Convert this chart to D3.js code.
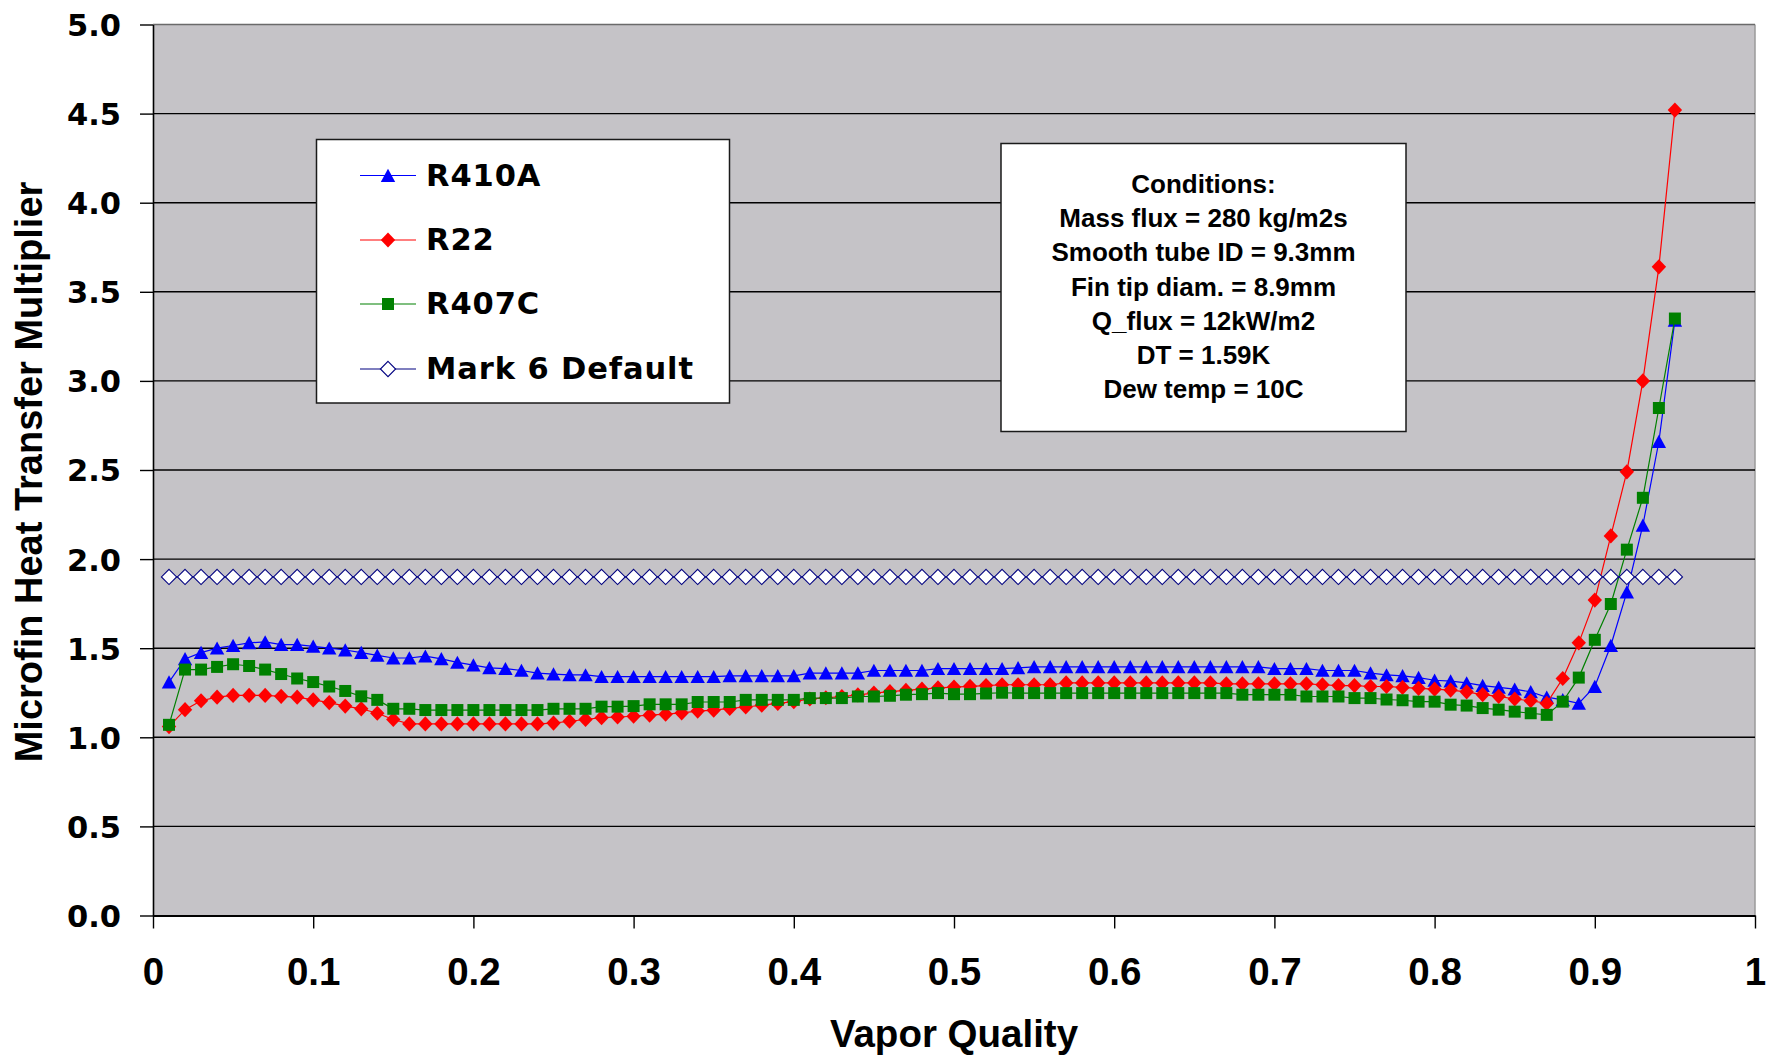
<!DOCTYPE html>
<html>
<head>
<meta charset="utf-8">
<script src="https://cdn.jsdelivr.net/npm/d3@7"></script>
<style>
  html, body { margin: 0; padding: 0; background: #ffffff; }
  svg { display: block; }
</style>
</head>
<body>
<svg id="chart" width="1773" height="1057"></svg>
<script>
// Vapor quality at which each multiplier was evaluated
const quality = [
  0.01,0.02,0.03,0.04,0.05,0.06,0.07,0.08,0.09,0.10,
  0.11,0.12,0.13,0.14,0.15,0.16,0.17,0.18,0.19,0.20,
  0.21,0.22,0.23,0.24,0.25,0.26,0.27,0.28,0.29,0.30,
  0.31,0.32,0.33,0.34,0.35,0.36,0.37,0.38,0.39,0.40,
  0.41,0.42,0.43,0.44,0.45,0.46,0.47,0.48,0.49,0.50,
  0.51,0.52,0.53,0.54,0.55,0.56,0.57,0.58,0.59,0.60,
  0.61,0.62,0.63,0.64,0.65,0.66,0.67,0.68,0.69,0.70,
  0.71,0.72,0.73,0.74,0.75,0.76,0.77,0.78,0.79,0.80,
  0.81,0.82,0.83,0.84,0.85,0.86,0.87,0.88,0.89,0.90,
  0.91,0.92,0.93,0.94,0.95
];

const r410a = [
  1.31,1.44,1.475,1.50,1.515,1.53,1.535,1.52,1.52,1.51,
  1.50,1.49,1.475,1.46,1.445,1.445,1.455,1.44,1.42,1.405,
  1.39,1.385,1.375,1.36,1.355,1.35,1.35,1.34,1.34,1.34,
  1.34,1.34,1.34,1.34,1.34,1.345,1.345,1.345,1.345,1.345,
  1.36,1.36,1.36,1.36,1.375,1.375,1.375,1.375,1.385,1.385,
  1.385,1.385,1.385,1.39,1.395,1.395,1.395,1.395,1.395,1.395,
  1.395,1.395,1.395,1.395,1.395,1.395,1.395,1.395,1.395,1.385,
  1.385,1.385,1.375,1.375,1.375,1.36,1.35,1.345,1.335,1.32,
  1.315,1.305,1.29,1.28,1.27,1.255,1.225,1.21,1.19,1.285,
  1.515,1.815,2.19,2.66,3.34
];

const r22 = [
  1.06,1.155,1.205,1.225,1.235,1.235,1.235,1.23,1.225,1.21,
  1.195,1.175,1.16,1.135,1.10,1.075,1.075,1.075,1.075,1.075,
  1.075,1.075,1.075,1.075,1.08,1.09,1.10,1.11,1.114,1.118,
  1.124,1.13,1.137,1.147,1.152,1.162,1.17,1.18,1.19,1.20,
  1.215,1.222,1.229,1.238,1.248,1.256,1.263,1.27,1.277,1.282,
  1.286,1.29,1.295,1.295,1.295,1.295,1.305,1.305,1.305,1.305,
  1.305,1.305,1.305,1.305,1.305,1.305,1.30,1.30,1.30,1.30,
  1.30,1.30,1.295,1.29,1.29,1.285,1.285,1.28,1.275,1.27,
  1.265,1.255,1.24,1.23,1.215,1.205,1.19,1.33,1.53,1.77,
  2.13,2.49,3.00,3.64,4.52
];

const r407c = [
  1.07,1.38,1.38,1.395,1.41,1.40,1.38,1.355,1.33,1.31,
  1.285,1.26,1.23,1.21,1.16,1.16,1.153,1.153,1.153,1.153,
  1.153,1.153,1.153,1.153,1.16,1.16,1.16,1.172,1.172,1.175,
  1.185,1.185,1.185,1.198,1.198,1.198,1.21,1.21,1.21,1.21,
  1.22,1.22,1.22,1.229,1.229,1.233,1.239,1.242,1.248,1.242,
  1.242,1.246,1.25,1.248,1.248,1.248,1.248,1.248,1.248,1.248,
  1.248,1.248,1.248,1.248,1.248,1.248,1.248,1.239,1.239,1.239,
  1.239,1.229,1.229,1.229,1.22,1.22,1.212,1.208,1.20,1.20,
  1.183,1.178,1.164,1.155,1.144,1.135,1.126,1.20,1.335,1.547,
  1.748,2.053,2.344,2.848,3.35
];

const mark6Default = [
  1.9,1.9,1.9,1.9,1.9,1.9,1.9,1.9,1.9,1.9,
  1.9,1.9,1.9,1.9,1.9,1.9,1.9,1.9,1.9,1.9,
  1.9,1.9,1.9,1.9,1.9,1.9,1.9,1.9,1.9,1.9,
  1.9,1.9,1.9,1.9,1.9,1.9,1.9,1.9,1.9,1.9,
  1.9,1.9,1.9,1.9,1.9,1.9,1.9,1.9,1.9,1.9,
  1.9,1.9,1.9,1.9,1.9,1.9,1.9,1.9,1.9,1.9,
  1.9,1.9,1.9,1.9,1.9,1.9,1.9,1.9,1.9,1.9,
  1.9,1.9,1.9,1.9,1.9,1.9,1.9,1.9,1.9,1.9,
  1.9,1.9,1.9,1.9,1.9,1.9,1.9,1.9,1.9,1.9,
  1.9,1.9,1.9,1.9,1.9
];

const seriesNames = ["R410A", "R22", "R407C", "Mark 6 Default"];
const xTicks = [0, 0.1, 0.2, 0.3, 0.4, 0.5, 0.6, 0.7, 0.8, 0.9, 1];
const xTickLabels = ["0", "0.1", "0.2", "0.3", "0.4", "0.5", "0.6", "0.7", "0.8", "0.9", "1"];
const yTicks = [0, 0.5, 1, 1.5, 2, 2.5, 3, 3.5, 4, 4.5, 5];
const yTickLabels = ["0.0", "0.5", "1.0", "1.5", "2.0", "2.5", "3.0", "3.5", "4.0", "4.5", "5.0"];
const conditions = [
  "Conditions:",
  "Mass flux = 280 kg/m2s",
  "Smooth tube ID = 9.3mm",
  "Fin tip diam. = 8.9mm",
  "Q_flux = 12kW/m2",
  "DT = 1.59K",
  "Dew temp = 10C"
];

// ---- layout ----
const plot = { left: 153, right: 1755, top: 24.5, bottom: 915.5 };
const svg = d3.select("#chart");

const x = d3.scaleLinear().domain([0, 1]).range([plot.left, plot.right]);
const y = d3.scaleLinear().domain([0, 5]).range([plot.bottom, plot.top]);

const boldArial = "'Liberation Sans', Arial, sans-serif";
const boldWide = "'DejaVu Sans', Verdana, sans-serif";

// plot background
svg.append("rect")
  .attr("x", plot.left).attr("y", plot.top)
  .attr("width", plot.right - plot.left).attr("height", plot.bottom - plot.top)
  .attr("fill", "#c5c3c7");

// right border of the plot area
svg.append("line")
  .attr("x1", plot.right).attr("x2", plot.right)
  .attr("y1", plot.top).attr("y2", plot.bottom)
  .attr("stroke", "#9a9a9a").attr("stroke-width", 1.5);

// horizontal gridlines
svg.append("g").selectAll("line")
  .data(yTicks.filter(v => v > 0))
  .join("line")
  .attr("x1", plot.left).attr("x2", plot.right)
  .attr("y1", d => y(d)).attr("y2", d => y(d))
  .attr("stroke", d => d === 5 ? "#6a6a6a" : "#000")
  .attr("stroke-width", 1.4);

// y axis
const yAxis = d3.axisLeft(y)
  .tickValues(yTicks)
  .tickFormat((d, i) => yTickLabels[i])
  .tickSizeInner(13).tickSizeOuter(0).tickPadding(19);
const gy = svg.append("g").attr("transform", `translate(${plot.left},0)`).call(yAxis);
gy.select(".domain").attr("stroke", "#000").attr("stroke-width", 1.6);
gy.selectAll(".tick line").attr("stroke", "#000").attr("stroke-width", 1.4);
gy.selectAll(".tick text")
  .attr("font-family", boldWide).attr("font-weight", "bold")
  .attr("font-size", 30.5).attr("fill", "#000").attr("dy", "0.36em");

// x axis
const xAxis = d3.axisBottom(x)
  .tickValues(xTicks)
  .tickFormat((d, i) => xTickLabels[i])
  .tickSizeInner(13).tickSizeOuter(0).tickPadding(0);
const gx = svg.append("g").attr("transform", `translate(0,${plot.bottom})`).call(xAxis);
gx.select(".domain").attr("stroke", "#000").attr("stroke-width", 2.2);
gx.selectAll(".tick line").attr("stroke", "#000").attr("stroke-width", 1.4);
gx.selectAll(".tick text")
  .attr("font-family", boldArial).attr("font-weight", "bold")
  .attr("font-size", 38.5).attr("fill", "#000")
  .attr("y", 69.5).attr("dy", null);

// axis titles
svg.append("text")
  .attr("x", (plot.left + plot.right) / 2).attr("y", 1047)
  .attr("text-anchor", "middle")
  .attr("font-family", boldArial).attr("font-weight", "bold").attr("font-size", 38.5)
  .text("Vapor Quality");

svg.append("text")
  .attr("transform", "translate(42,472) rotate(-90)")
  .attr("text-anchor", "middle")
  .attr("font-family", boldArial).attr("font-weight", "bold").attr("font-size", 38)
  .text("Microfin Heat Transfer Multiplier");

// ---- marker shapes ----
const triangle = { draw(ctx) { ctx.moveTo(0, -6.8); ctx.lineTo(7.2, 6.4); ctx.lineTo(-7.2, 6.4); ctx.closePath(); } };
const diamondRed = { draw(ctx) { ctx.moveTo(0, -7.6); ctx.lineTo(7.2, 0); ctx.lineTo(0, 7.6); ctx.lineTo(-7.2, 0); ctx.closePath(); } };
const square = { draw(ctx) { ctx.rect(-6, -6, 12, 12); } };
const diamondOpen = { draw(ctx) { ctx.moveTo(0, -7.6); ctx.lineTo(7.6, 0); ctx.lineTo(0, 7.6); ctx.lineTo(-7.6, 0); ctx.closePath(); } };

const series = [
  { name: seriesNames[0], values: r410a, line: "#0000ff", fill: "#0000ff", stroke: "none", shape: triangle },
  { name: seriesNames[1], values: r22, line: "#ff0000", fill: "#ff0000", stroke: "none", shape: diamondRed },
  { name: seriesNames[2], values: r407c, line: "#008000", fill: "#008000", stroke: "none", shape: square },
  { name: seriesNames[3], values: mark6Default, line: "#000080", fill: "#ffffff", stroke: "#000080", shape: diamondOpen }
];

const lineGen = d3.line().x(d => x(d[0])).y(d => y(d[1]));

const gSeries = svg.append("g");
series.forEach(s => {
  const pts = quality.map((q, i) => [q, s.values[i]]);
  const g = gSeries.append("g");
  g.append("path")
    .attr("d", lineGen(pts))
    .attr("fill", "none").attr("stroke", s.line).attr("stroke-width", 1.2);
  g.selectAll("path.mk")
    .data(pts)
    .join("path")
    .attr("class", "mk")
    .attr("transform", d => `translate(${x(d[0])},${y(d[1])})`)
    .attr("d", d3.symbol().type(s.shape)())
    .attr("fill", s.fill)
    .attr("stroke", s.stroke)
    .attr("stroke-width", s.stroke === "none" ? 0 : 1.1);
});

// ---- legend ----
const legend = svg.append("g");
legend.append("rect")
  .attr("x", 316.5).attr("y", 139.5).attr("width", 413).attr("height", 263.5)
  .attr("fill", "#fff").attr("stroke", "#1a1a1a").attr("stroke-width", 1.5);
const rowY = [175.5, 240, 304, 369];
series.forEach((s, i) => {
  const g = legend.append("g").attr("transform", `translate(0,${rowY[i]})`);
  g.append("line").attr("x1", 360).attr("x2", 416).attr("y1", 0).attr("y2", 0)
    .attr("stroke", s.line).attr("stroke-width", 1.2);
  g.append("path")
    .attr("transform", "translate(388,0)")
    .attr("d", d3.symbol().type(s.shape)())
    .attr("fill", s.fill).attr("stroke", s.stroke)
    .attr("stroke-width", s.stroke === "none" ? 0 : 1.1);
  g.append("text")
    .attr("x", 426).attr("y", 0).attr("dy", "0.33em")
    .attr("font-family", boldWide).attr("font-weight", "bold").attr("font-size", 30.5)
    .attr("letter-spacing", 0.9)
    .attr("fill", "#000")
    .text(s.name);
});

// ---- conditions note ----
const note = svg.append("g");
note.append("rect")
  .attr("x", 1001).attr("y", 143.5).attr("width", 405).attr("height", 288)
  .attr("fill", "#fff").attr("stroke", "#1a1a1a").attr("stroke-width", 1.5);
note.selectAll("text")
  .data(conditions)
  .join("text")
  .attr("x", 1203.5)
  .attr("y", (d, i) => 193.3 + i * 34.07)
  .attr("text-anchor", "middle")
  .attr("font-family", boldArial).attr("font-weight", "bold").attr("font-size", 26)
  .attr("fill", "#000")
  .text(d => d);
</script>
</body>
</html>
